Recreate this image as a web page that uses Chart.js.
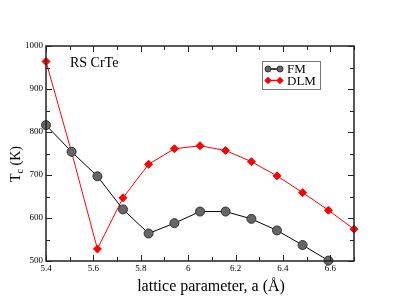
<!DOCTYPE html>
<html>
<head>
<meta charset="utf-8">
<script src="https://cdn.jsdelivr.net/npm/chart.js@4"></script>
<style>
  html, body { margin: 0; padding: 0; background: #fff; }
  #wrap { width: 399px; height: 308px; }
</style>
</head>
<body>
<div id="wrap"><canvas id="c" width="399" height="308"></canvas></div>
<script>
// Tc vs lattice parameter for rock-salt CrTe, FM and DLM reference states.
const A_FM  = [5.4, 5.508, 5.617, 5.725, 5.833, 5.942, 6.05, 6.158, 6.267, 6.375, 6.483, 6.592];
const TC_FM = [816, 754, 697, 620, 564, 588, 615, 615, 598, 571, 537, 501];
const A_DLM  = [5.4, 5.508, 5.617, 5.725, 5.833, 5.942, 6.05, 6.158, 6.267, 6.375, 6.483, 6.592, 6.7];
const TC_DLM = [964, 753, 528, 647, 725, 761, 768, 757, 731, 698, 659, 618, 574];

const X_TICKS = [5.4, 5.6, 5.8, 6.0, 6.2, 6.4, 6.6];
const X_LABELS = ['5.4', '5.6', '5.8', '6', '6.2', '6.4', '6.6'];
const Y_TICKS = [500, 600, 700, 800, 900, 1000];

const SERIF = '"Liberation Serif", "DejaVu Serif", serif';

function pts(xs, ys) { return xs.map((x, i) => ({ x, y: ys[i] })); }

// xmgrace-style frame: box on all four sides with inward major/minor ticks
const frame = {
  id: 'frame',
  afterDraw(chart) {
    const { ctx, chartArea: a, scales: { x, y } } = chart;
    ctx.save();
    ctx.strokeStyle = '#222';
    ctx.lineWidth = 1.5;
    ctx.strokeRect(a.left, a.top, a.right - a.left, a.bottom - a.top);
    ctx.lineWidth = 1;
    ctx.beginPath();
    for (let k = 0; k <= 13; k++) {
      const v = 5.4 + k * 0.1;
      const px = Math.round(x.getPixelForValue(v)) + 0.5;
      const len = k % 2 === 0 ? 6 : 4;
      ctx.moveTo(px, a.bottom); ctx.lineTo(px, a.bottom - len);
      ctx.moveTo(px, a.top); ctx.lineTo(px, a.top + len);
    }
    for (let v = 500; v <= 1000; v += 50) {
      const py = Math.round(y.getPixelForValue(v)) + 0.5;
      const len = v % 100 === 0 ? 6 : 4;
      ctx.moveTo(a.left, py); ctx.lineTo(a.left + len, py);
      ctx.moveTo(a.right, py); ctx.lineTo(a.right - len, py);
    }
    ctx.stroke();

    // axis titles and annotation
    ctx.fillStyle = '#000';
    ctx.font = '16px ' + SERIF;
    ctx.textAlign = 'center';
    ctx.textBaseline = 'alphabetic';
    ctx.fillText('lattice parameter, a (\u00c5)', 211, 291);

    ctx.font = '14px ' + SERIF;
    ctx.textAlign = 'left';
    ctx.fillText('RS CrTe', 70, 67);

    // y title with subscript c, rotated
    ctx.save();
    ctx.translate(20, 164);
    ctx.rotate(-Math.PI / 2);
    ctx.font = '14px ' + SERIF;
    const wT = ctx.measureText('T').width;
    ctx.font = '10px ' + SERIF;
    const wc = ctx.measureText('c').width;
    ctx.font = '14px ' + SERIF;
    const wK = ctx.measureText(' (K)').width;
    let sx = -(wT + wc + wK) / 2;
    ctx.fillText('T', sx, 0); sx += wT;
    ctx.font = '10px ' + SERIF;
    ctx.fillText('c', sx, 3); sx += wc;
    ctx.font = '14px ' + SERIF;
    ctx.fillText(' (K)', sx, 0);
    ctx.restore();

    // legend box
    const lx = 262, ly = 61, lw = 58, lh = 28;
    ctx.fillStyle = '#fff';
    ctx.fillRect(lx, ly, lw, lh);
    ctx.strokeStyle = '#777';
    ctx.lineWidth = 1;
    ctx.strokeRect(lx + 0.5, ly + 0.5, lw, lh);
    chart.data.datasets.forEach((ds, i) => {
      const cy = ly + 8 + i * 11.5;
      ctx.strokeStyle = ds.borderColor;
      ctx.lineWidth = 1.5;
      ctx.beginPath(); ctx.moveTo(266, cy); ctx.lineTo(282, cy); ctx.stroke();
      [268, 280].forEach((mx) => {
        ctx.fillStyle = ds.pointBackgroundColor;
        ctx.strokeStyle = ds.pointBorderColor;
        ctx.lineWidth = 1;
        ctx.beginPath();
        if (ds.pointStyle === 'circle') {
          ctx.arc(mx, cy, 3, 0, Math.PI * 2);
        } else {
          ctx.moveTo(mx, cy - 3.2); ctx.lineTo(mx + 3.2, cy);
          ctx.lineTo(mx, cy + 3.2); ctx.lineTo(mx - 3.2, cy); ctx.closePath();
        }
        ctx.fill(); ctx.stroke();
      });
      ctx.fillStyle = '#000';
      ctx.font = '13px ' + SERIF;
      ctx.textAlign = 'left';
      ctx.textBaseline = 'middle';
      ctx.fillText(ds.label, 287, cy + 1);
    });
    ctx.restore();
  },
};

new Chart(document.getElementById('c'), {
  type: 'scatter',
  data: {
    datasets: [
      {
        label: 'FM',
        data: pts(A_FM, TC_FM),
        showLine: true,
        borderColor: '#000',
        borderWidth: 1,
        pointStyle: 'circle',
        pointRadius: 4.5,
        pointBackgroundColor: '#666',
        pointBorderColor: '#333',
        pointBorderWidth: 1,
        clip: false,
      },
      {
        label: 'DLM',
        data: pts(A_DLM, TC_DLM),
        showLine: true,
        borderColor: '#f00',
        borderWidth: 1,
        pointStyle: 'rectRot',
        pointRadius: 4,
        pointBackgroundColor: '#f00',
        pointBorderColor: '#f00',
        pointBorderWidth: 1,
        clip: false,
      },
    ],
  },
  options: {
    responsive: false,
    animation: false,
    events: [],
    layout: { padding: { left: 0, top: 46, right: 45, bottom: 0 } },
    plugins: { legend: { display: false }, tooltip: { enabled: false } },
    scales: {
      x: {
        type: 'linear',
        min: 5.4,
        max: 6.7,
        afterFit: (s) => { s.height = 47; },
        afterBuildTicks: (s) => { s.ticks = X_TICKS.map((v) => ({ value: v })); },
        grid: { display: false, drawTicks: false },
        border: { display: false },
        ticks: {
          padding: 2,
          color: '#000',
          font: { family: SERIF, size: 9 },
          callback: (v) => X_LABELS[X_TICKS.findIndex((t) => Math.abs(t - v) < 1e-6)],
        },
      },
      y: {
        type: 'linear',
        min: 500,
        max: 1000,
        afterFit: (s) => { s.width = 46; },
        afterBuildTicks: (s) => { s.ticks = Y_TICKS.map((v) => ({ value: v })); },
        grid: { display: false, drawTicks: false },
        border: { display: false },
        ticks: {
          padding: 3,
          color: '#000',
          font: { family: SERIF, size: 9 },
          callback: (v) => String(v),
        },
      },
    },
  },
  plugins: [frame],
});
</script>
</body>
</html>
